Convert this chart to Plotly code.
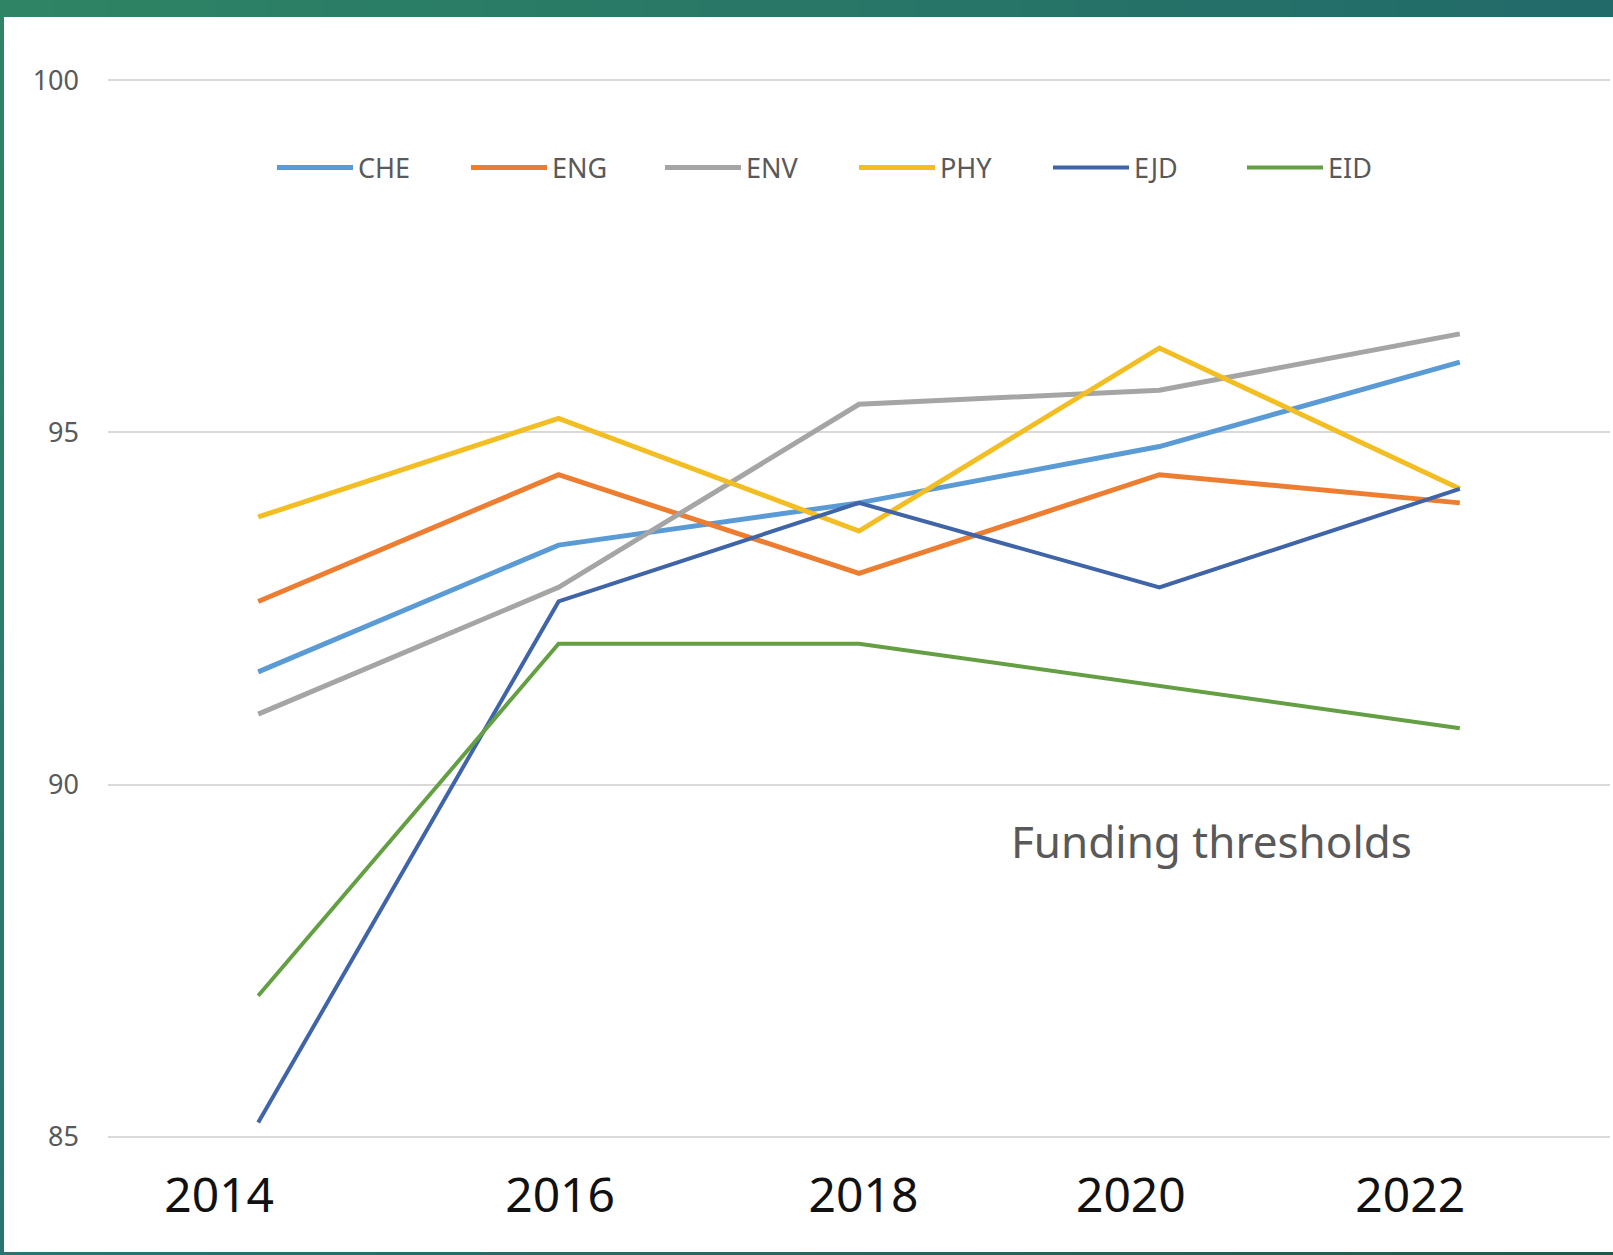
import plotly.graph_objects as go

years = [2014, 2016, 2018, 2020, 2022]
che = [91.6, 93.4, 94.0, 94.8, 96.0]
eng = [92.6, 94.4, 93.0, 94.4, 94.0]
env = [91.0, 92.8, 95.4, 95.6, 96.4]
phy = [93.8, 95.2, 93.6, 96.2, 94.2]
ejd = [85.2, 92.6, 94.0, 92.8, 94.2]
eid = [87.0, 92.0, 92.0, 91.4, 90.8]

series_names = ["CHE", "ENG", "ENV", "PHY", "EJD", "EID"]
series_values = [che, eng, env, phy, ejd, eid]
series_colors = ["#5b9bd5", "#ed7d31", "#a5a5a5", "#f3be23", "#4064a8", "#64a043"]
series_widths = [5, 5, 5, 5, 4, 4]

# tick labels (placed as in the original slide, not exactly under the points)
tick_positions = [2013.74, 2016.01, 2018.03, 2019.81, 2021.67]
tick_labels = ["2014", "2016", "2018", "2020", "2022"]
y_ticks = [85, 90, 95, 100]

W, H = 1613, 1255
ML, MR, MT, MB = 108, 3, 79, 117

fig = go.Figure()
for name, vals, col, lw in zip(series_names, series_values, series_colors, series_widths):
    fig.add_trace(go.Scatter(x=years, y=vals, name=name, mode="lines",
                             line=dict(color=col, width=lw)))

fig.add_annotation(x=2019.0, y=89.2, xref="x", yref="y", text="Funding thresholds",
                   showarrow=False, xanchor="left", yanchor="middle",
                   font=dict(family="Noto Sans", size=44, color="#595959"))

# decorative frame (gradient bands)
pw = W - ML - MR
ph = H - MT - MB
def px2x(px):
    return (px - ML) / pw
def py2y(py):
    return 1 - (py - MT) / ph

def lerp(c1, c2, t):
    a = [int(c1[i:i+2], 16) for i in (1, 3, 5)]
    b = [int(c2[i:i+2], 16) for i in (1, 3, 5)]
    return "#" + "".join(f"{round(a[k] + (b[k]-a[k])*t):02x}" for k in range(3))

shapes = []
N = 30
for i in range(N):
    t = (i + 0.5) / N
    shapes.append(dict(type="rect", xref="paper", yref="paper",
                       x0=px2x(W * i / N), x1=px2x(W * (i + 1) / N + 1),
                       y0=py2y(17), y1=py2y(0), line=dict(width=0),
                       fillcolor=lerp("#2e8464", "#226a6a", t), layer="above"))
    shapes.append(dict(type="rect", xref="paper", yref="paper",
                       x0=px2x(W * i / N), x1=px2x(W * (i + 1) / N + 1),
                       y0=py2y(H), y1=py2y(H - 3), line=dict(width=0),
                       fillcolor=lerp("#2b7272", "#1e5a48", t), layer="above"))
    shapes.append(dict(type="rect", xref="paper", yref="paper",
                       x0=px2x(0), x1=px2x(4),
                       y0=py2y(H * (i + 1) / N + 1), y1=py2y(H * i / N),
                       line=dict(width=0),
                       fillcolor=lerp("#2e8464", "#2a7373", t), layer="above"))

fig.update_layout(
    width=W, height=H,
    margin=dict(l=ML, r=MR, t=MT, b=MB),
    paper_bgcolor="white", plot_bgcolor="white",
    font=dict(family="Noto Sans", color="#595959"),
    shapes=shapes,
    showlegend=True,
    legend=dict(orientation="h", x=px2x(272), y=py2y(168), xanchor="left", yanchor="middle",
                font=dict(family="Noto Sans", size=27, color="#595959"),
                itemwidth=76, entrywidth=103, entrywidthmode="pixels",
                bgcolor="rgba(0,0,0,0)", tracegroupgap=0),
    xaxis=dict(range=[2013, 2023], tickvals=tick_positions, ticktext=tick_labels,
               showgrid=False, zeroline=False, showline=False, ticks="",
               tickfont=dict(family="Noto Sans", size=48, color="#111111"),
               ticklabelstandoff=25),
    yaxis=dict(range=[84.98, 100.02], tickvals=y_ticks, showgrid=True,
               gridcolor="#d9d9d9", gridwidth=2, zeroline=False, showline=False,
               ticks="", tickfont=dict(family="Noto Sans", size=27, color="#595959"),
               ticklabelstandoff=28),
)

fig.write_html("out.html", config={"displayModeBar": False},
               post_script="document.body.style.margin='0px';")
